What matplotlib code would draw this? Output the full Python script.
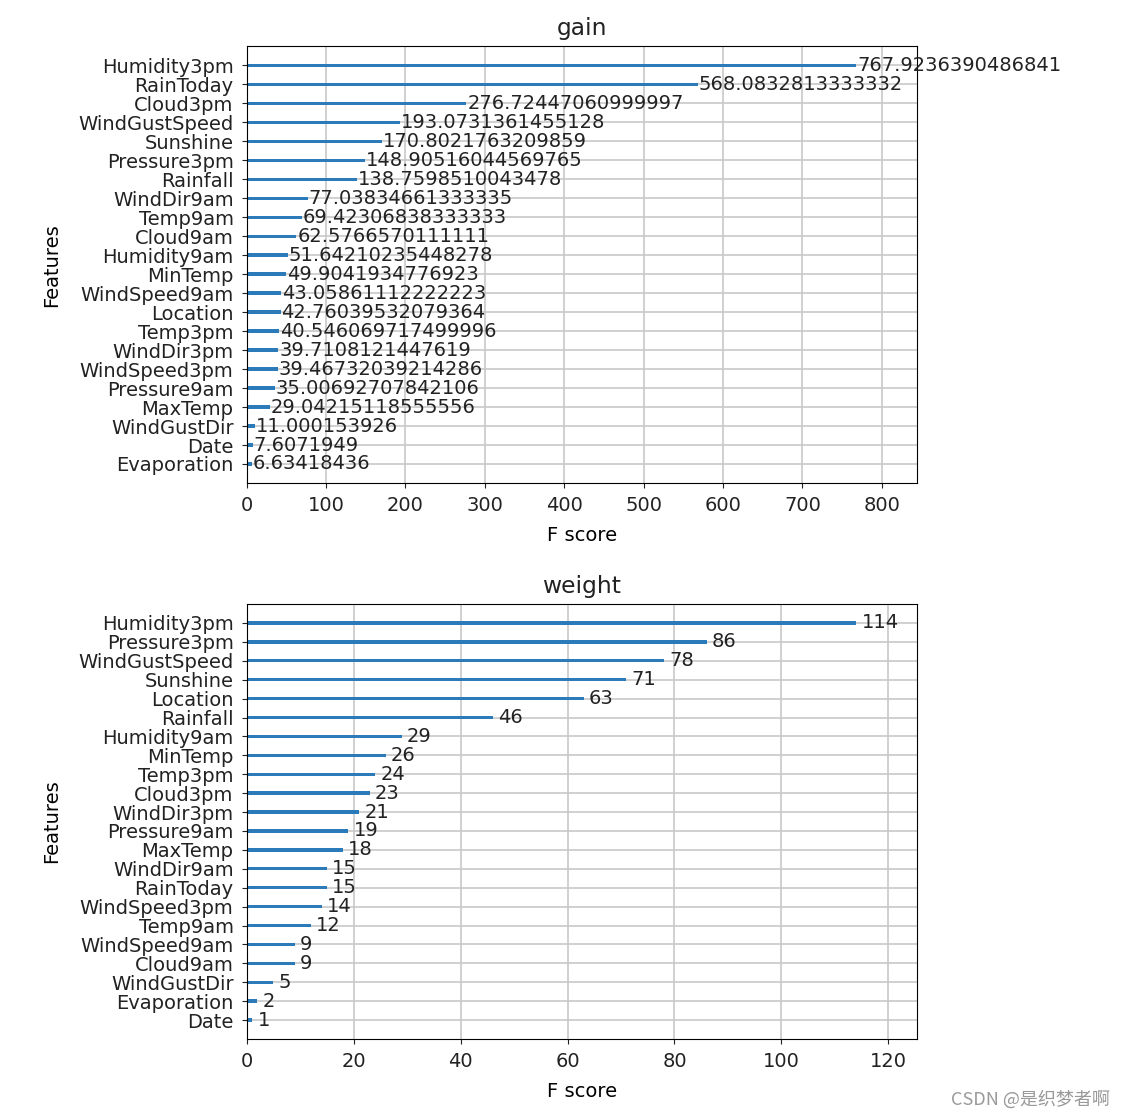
import numpy as np
import matplotlib
matplotlib.use("Agg")
import matplotlib.pyplot as plt

plt.rcParams['font.family'] = ['DejaVu Sans', 'Noto Sans CJK SC']
plt.rcParams['font.size'] = 14
plt.rcParams['xtick.major.pad'] = 6
plt.rcParams['ytick.major.pad'] = 6
plt.rcParams['text.color'] = '#222222'
plt.rcParams['xtick.color'] = '#222222'
plt.rcParams['ytick.color'] = '#222222'

# gain importance (top to bottom as shown)
gain_feats = ["Humidity3pm", "RainToday", "Cloud3pm", "WindGustSpeed", "Sunshine",
              "Pressure3pm", "Rainfall", "WindDir9am", "Temp9am", "Cloud9am",
              "Humidity9am", "MinTemp", "WindSpeed9am", "Location", "Temp3pm",
              "WindDir3pm", "WindSpeed3pm", "Pressure9am", "MaxTemp", "WindGustDir",
              "Date", "Evaporation"]
gain_vals = [767.9236390486841, 568.0832813333332, 276.72447060999997, 193.0731361455128,
             170.8021763209859, 148.9051604456976, 138.7598510043478, 77.03834661333335,
             69.42306838333333, 62.5766570111111, 51.64210235448278, 49.9041934776923,
             43.05861112222223, 42.76039532079364, 40.546069717499996, 39.7108121447619,
             39.46732039214286, 35.00692707842106, 29.04215118555556, 11.000153926,
             7.6071949, 6.63418436]
gain_text = ["767.9236390486841", "568.0832813333332", "276.72447060999997", "193.0731361455128",
             "170.8021763209859", "148.90516044569765", "138.7598510043478", "77.03834661333335",
             "69.42306838333333", "62.5766570111111", "51.64210235448278", "49.9041934776923",
             "43.05861112222223", "42.76039532079364", "40.546069717499996", "39.7108121447619",
             "39.46732039214286", "35.00692707842106", "29.04215118555556", "11.000153926",
             "7.6071949", "6.63418436"]

# weight importance
weight_feats = ["Humidity3pm", "Pressure3pm", "WindGustSpeed", "Sunshine", "Location",
                "Rainfall", "Humidity9am", "MinTemp", "Temp3pm", "Cloud3pm",
                "WindDir3pm", "Pressure9am", "MaxTemp", "WindDir9am", "RainToday",
                "WindSpeed3pm", "Temp9am", "WindSpeed9am", "Cloud9am", "WindGustDir",
                "Evaporation", "Date"]
weight_vals = [114, 86, 78, 71, 63, 46, 29, 26, 24, 23, 21, 19, 18, 15, 15, 14, 12, 9, 9, 5, 2, 1]


def plot_importance(ax, feats, vals, labels, title):
    feats = feats[::-1]
    vals = vals[::-1]
    labels = labels[::-1]
    ylocs = np.arange(len(vals))
    ax.barh(ylocs, vals, align='center', height=0.18, color='#2b7bba')
    for x, y, t in zip(vals, ylocs, labels):
        ax.text(x + 1, y, t, va='center')
    ax.set_yticks(ylocs)
    ax.set_yticklabels(feats)
    ax.set_xlim(0, max(vals) * 1.1)
    ax.set_ylim(-1, len(vals))
    ax.set_title(title, pad=8)
    ax.set_xlabel('F score', labelpad=8)
    ax.set_ylabel('Features', labelpad=12)
    ax.grid(True, color='#c8c8c8', linewidth=1.2)
    ax.set_axisbelow(True)


fig = plt.figure(figsize=(11.24, 11.18), dpi=100)
ax1 = fig.add_axes([0.2195, 0.568, 0.5965, 0.3905])
ax2 = fig.add_axes([0.2195, 0.0707, 0.5965, 0.3890])

plot_importance(ax1, gain_feats, gain_vals, gain_text, "gain")
plot_importance(ax2, weight_feats, weight_vals, [str(v) for v in weight_vals], "weight")

fig.text(0.987, 0.008, "CSDN @是织梦者啊", ha='right', va='bottom', fontsize=13,
         color='#999999', family=['Noto Sans CJK SC', 'DejaVu Sans'])

fig.savefig("out.png", dpi=100)
